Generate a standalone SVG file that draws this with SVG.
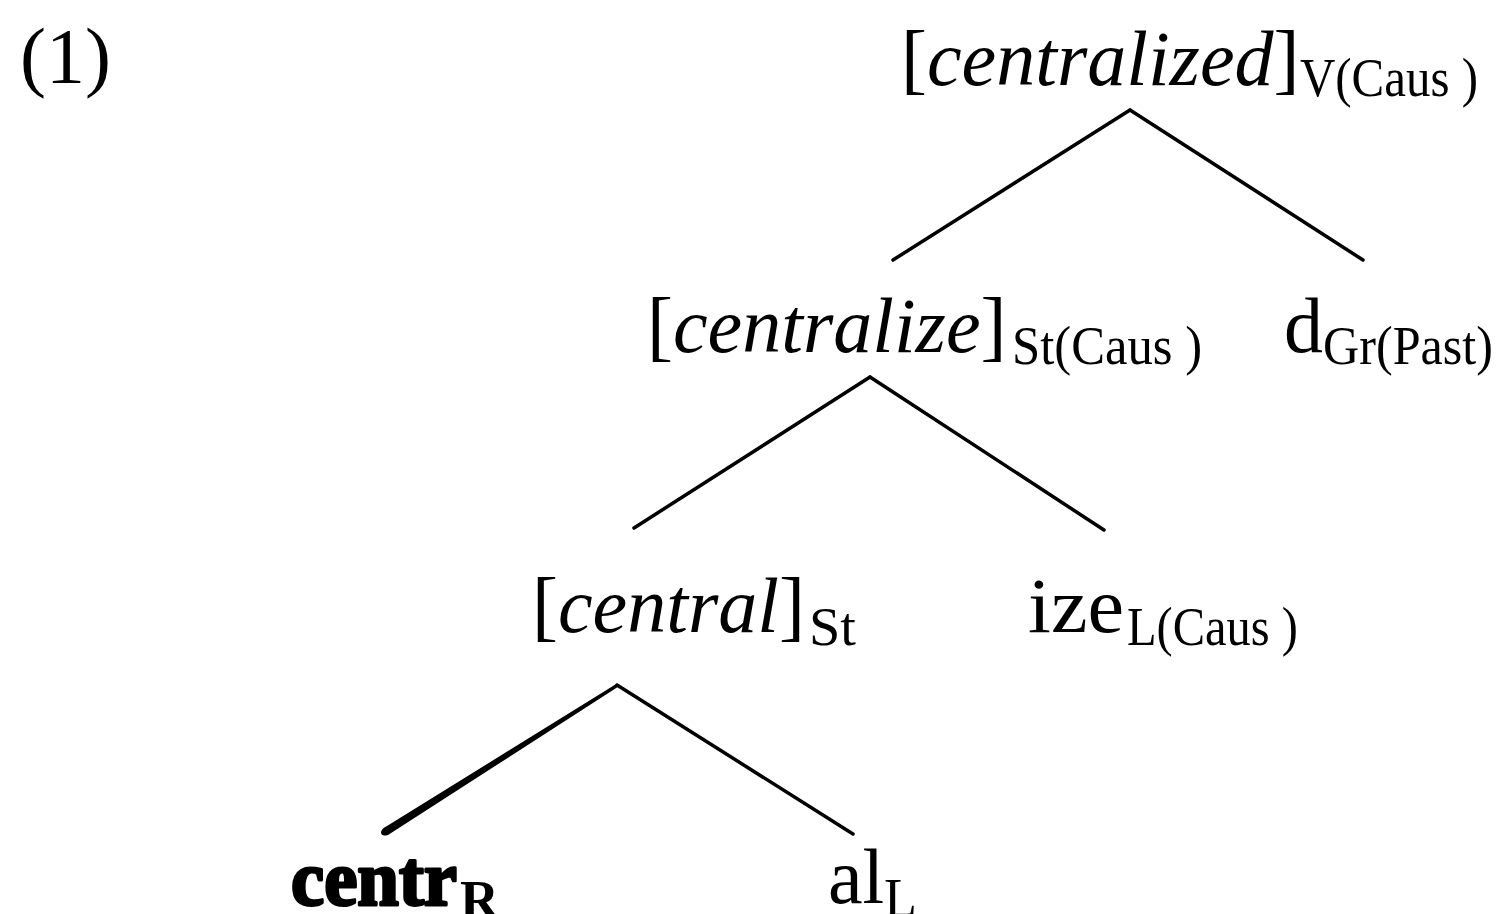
<svg xmlns="http://www.w3.org/2000/svg" width="1499" height="914" viewBox="0 0 1499 914">
<style>
.m{font-family:"Liberation Serif","Times New Roman",serif;font-size:78px;fill:#000}
.i{font-style:italic}
.s{font-family:"Liberation Serif","Times New Roman",serif;font-size:54px;fill:#000}
.b{font-weight:bold;stroke:#000;stroke-width:3px;stroke-linejoin:round}
.e{stroke:#000;stroke-width:3.5;stroke-linecap:round;fill:none}
</style>
<rect width="1499" height="914" fill="#fff"/>
<g id="label-1"><text class="m" x="20" y="82">(1)</text></g>
<g id="n-centralized">
<text class="m" x="901" y="85">[<tspan class="i">centralized</tspan>]</text>
<text class="s" x="1300" y="96" textLength="178" lengthAdjust="spacingAndGlyphs">V(Caus )</text>
</g>
<g id="n-centralize">
<text class="m" x="647" y="352">[<tspan class="i">centralize</tspan>]</text>
<text class="s" x="1012" y="364" textLength="190" lengthAdjust="spacingAndGlyphs">St(Caus )</text>
</g>
<g id="n-d">
<text class="m" x="1284" y="352">d</text>
<text class="s" x="1323" y="364" textLength="170" lengthAdjust="spacingAndGlyphs">Gr(Past)</text>
</g>
<g id="n-central">
<text class="m" x="532" y="632">[<tspan class="i">central</tspan>]</text>
<text class="s" x="809" y="645" textLength="47" lengthAdjust="spacingAndGlyphs">St</text>
</g>
<g id="n-ize">
<text class="m" x="1028" y="632" textLength="96" lengthAdjust="spacingAndGlyphs">ize</text>
<text class="s" x="1127" y="645" textLength="171" lengthAdjust="spacingAndGlyphs">L(Caus )</text>
</g>
<g id="n-centr">
<text class="m b" x="291" y="905" textLength="166" lengthAdjust="spacingAndGlyphs">centr</text>
<text class="s" x="460" y="918" font-weight="bold">R</text>
</g>
<g id="n-al">
<text class="m" x="828" y="903">al</text>
<text class="s" x="884" y="916">L</text>
</g>
<g id="connectors">
<line class="e" x1="1130" y1="110" x2="893" y2="260"/>
<line class="e" x1="1130" y1="110" x2="1363" y2="260"/>
<line class="e" x1="870" y1="377" x2="634" y2="528"/>
<line class="e" x1="870" y1="377" x2="1104" y2="530"/>
<line class="e" x1="617" y1="685" x2="853" y2="834"/>
<path d="M617 683.5 L618.5 686.5 L388 835 Q381 837 381 832 Q382 828 387 826 Z" fill="#000"/>
</g>
</svg>
